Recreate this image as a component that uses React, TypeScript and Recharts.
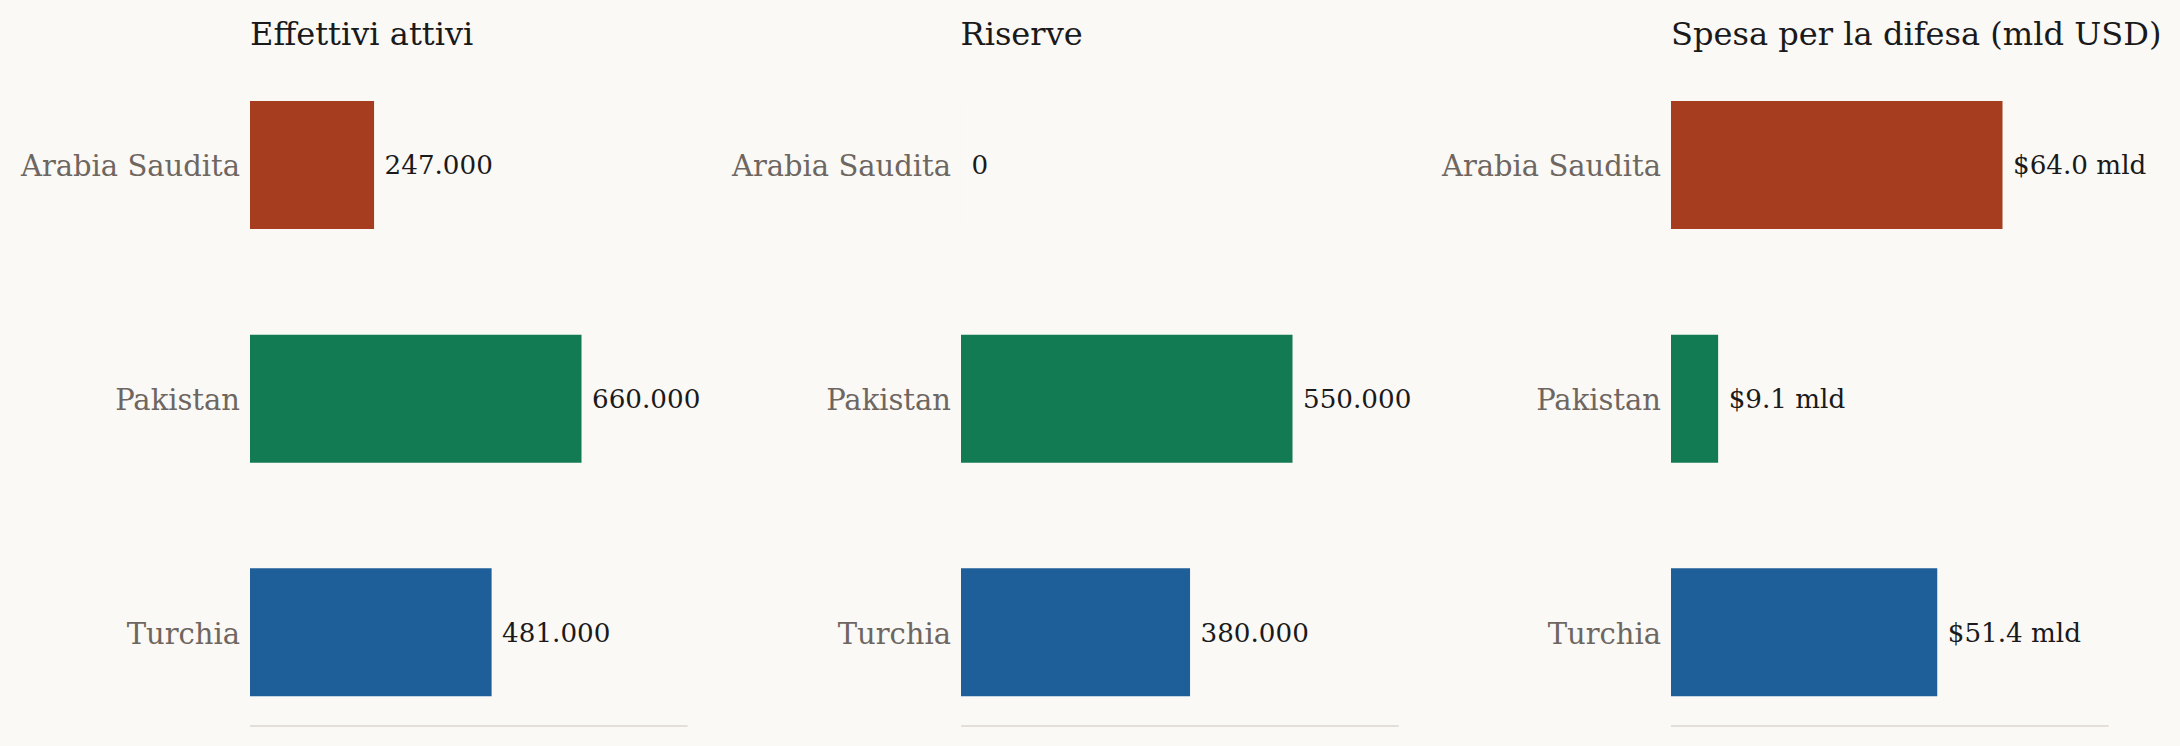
import React from "react";
import { BarChart, Bar, XAxis, YAxis, Cell, LabelList } from "recharts";

const countries = ["Arabia Saudita", "Pakistan", "Turchia"];
const countryColors = ["#a63d1e", "#127b54", "#1f5f99"];

const activePersonnel = [247000, 660000, 481000];
const reserves = [0, 550000, 380000];
const defenseSpending = [64.0, 9.1, 51.4];

const panelTitles = ["Effettivi attivi", "Riserve", "Spesa per la difesa (mld USD)"];
const axisMax = [871200, 726000, 84.48];

const FONT = "'DejaVu Serif', 'Liberation Serif', serif";
const BG = "#faf9f6";
const PANEL_STEP = 710.5;
const CHART_WIDTH = 759;
const CHART_HEIGHT = 746;
const AXIS_WIDTH = 250;
const PLOT_WIDTH = 437.6;

const thousands = (v: number) =>
  String(Math.round(v)).replace(/\B(?=(\d{3})+(?!\d))/g, ".");
const billions = (v: number) => `$${v.toFixed(1)} mld`;

const panelValues = [activePersonnel, reserves, defenseSpending];
const panelFormatters = [thousands, thousands, billions];

// value label drawn right of the bar end
const valueLabel = (fmt: (v: number) => string) => (props: any) => {
  const { x, y, width, height, value } = props;
  return (
    <text
      x={Number(x) + Number(width || 0) + 10.5}
      y={Number(y) + Number(height) / 2}
      dy="0.36em"
      fill="#1a1a1a"
      fontSize={26.2}
      fontFamily={FONT}
      textAnchor="start"
    >
      {fmt(Number(value))}
    </text>
  );
};

function CategoryTick(props: any) {
  const { x, y, payload } = props;
  return (
    <text
      x={x}
      y={y}
      dy="0.4em"
      fill="#6e6660"
      fontSize={29}
      fontFamily={FONT}
      textAnchor="end"
    >
      {payload.value}
    </text>
  );
}

function Panel({ index }: { index: number }) {
  const values = panelValues[index];
  const data = countries.map((name, i) => ({ name, value: values[i] }));
  const left = PANEL_STEP * index;

  return (
    <div style={{ position: "absolute", left, top: 0, width: CHART_WIDTH, height: CHART_HEIGHT }}>
      <div
        style={{
          position: "absolute",
          left: AXIS_WIDTH,
          top: 18,
          fontFamily: FONT,
          fontSize: 32.1,
          lineHeight: "32px",
          color: "#1a1a1a",
          whiteSpace: "nowrap",
        }}
      >
        {panelTitles[index]}
      </div>
      <BarChart
        width={CHART_WIDTH}
        height={CHART_HEIGHT}
        data={data}
        layout="vertical"
        margin={{ top: 48, right: CHART_WIDTH - AXIS_WIDTH - PLOT_WIDTH, bottom: 18, left: 0 }}
        style={{ position: "absolute", left: 0, top: 0 }}
      >
        <XAxis
          type="number"
          domain={[0, axisMax[index]]}
          allowDataOverflow
          tick={false}
          tickLine={false}
          height={2}
          axisLine={{ stroke: "#e3ded7", strokeWidth: 2 }}
        />
        <YAxis
          type="category"
          dataKey="name"
          width={AXIS_WIDTH}
          axisLine={false}
          tickLine={false}
          tickSize={0}
          tickMargin={10}
          padding={{ top: 0, bottom: -23 }}
          tick={<CategoryTick />}
        />
        <Bar dataKey="value" barSize={128} minPointSize={0.01} isAnimationActive={false}>
          {data.map((d, i) => (
            <Cell key={d.name} fill={countryColors[i]} />
          ))}
          <LabelList dataKey="value" content={valueLabel(panelFormatters[index])} />
        </Bar>
      </BarChart>
    </div>
  );
}

export default function App() {
  return (
    <div
      style={{
        position: "absolute",
        left: 0,
        top: 0,
        width: 2180,
        height: 746,
        background: BG,
        overflow: "hidden",
      }}
    >
      {panelTitles.map((t, i) => (
        <Panel key={t} index={i} />
      ))}
    </div>
  );
}
